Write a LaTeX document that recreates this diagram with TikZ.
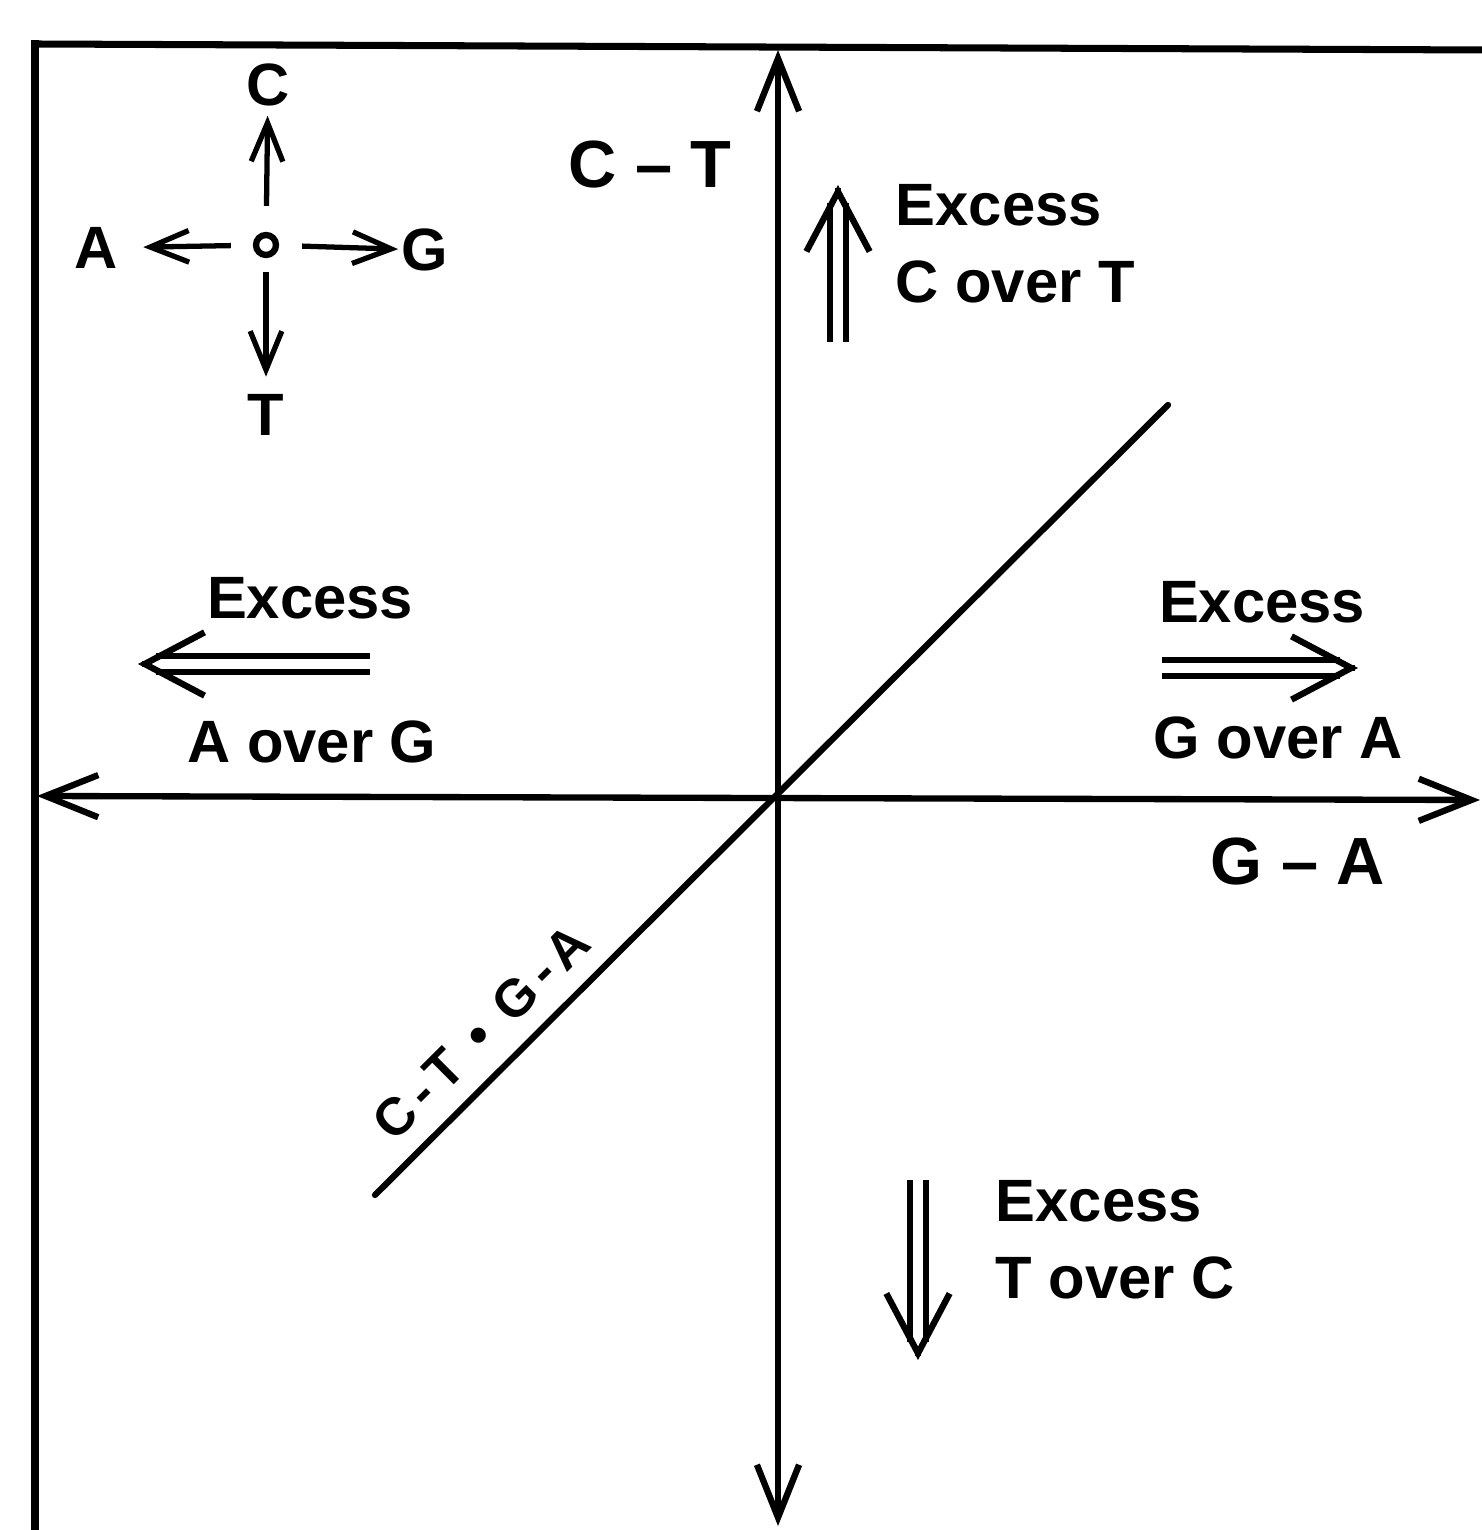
\documentclass[tikz,border=0pt]{standalone}
\usepackage{fontspec}
\setmainfont{Liberation Sans}
\usetikzlibrary{arrows.meta,positioning,calc}

\tikzset{
  lab/.style={font=\bfseries\fontsize{17}{22}\selectfont, inner sep=0pt},
  biglab/.style={font=\bfseries\fontsize{19}{23}\selectfont, inner sep=0pt},
  frame/.style={line width=2pt},
  axis/.style={line width=1.8pt, {Straight Barb[length=15pt,width=12pt]}-{Straight Barb[length=15pt,width=12pt]}},
  tiny/.style={line width=1.5pt, -{Straight Barb[length=11pt,width=9pt]}},
  excess/.style={double, double distance=2.8pt, line width=1.7pt, shorten >=5pt},
  head/.style={line width=1.8pt, -{Straight Barb[length=17pt,width=18pt]}},
}

\begin{document}
\begin{tikzpicture}
  \useasboundingbox (0,0) rectangle (14.82,15.30);
  % frame
  \draw[frame] (0.35,0) -- (0.35,14.90);
  \draw[frame] (0.33,14.86) -- (14.82,14.80);
  % axes
  \coordinate (O) at (7.78,7.33);
  \coordinate (top) at (7.78,14.80);
  \coordinate (bot) at (7.78,0.04);
  \coordinate (lft) at (0.37,7.34);
  \coordinate (rgt) at (14.80,7.30);
  \draw[axis] (bot) -- (top);
  \draw[axis] (lft) -- (rgt);
  \node[biglab] (CT) at (6.50,13.65) {C -- T};
  \node[biglab] (GA) at (12.98,6.68) {G -- A};
  % diagonal
  \coordinate (d1) at (3.75,3.35);
  \coordinate (d2) at (11.68,11.25);
  \draw[line width=1.8pt, line cap=round] (d1) -- (d2)
    node[pos=0.17, sloped, above=2pt, font=\bfseries\fontsize{15}{18}\selectfont\addfontfeatures{LetterSpace=15}] (eq) {C-T \textbullet\ G-A};
  % compass
  \node[draw, circle, line width=1.8pt, minimum size=0.2cm, inner sep=0pt] (cen) at (2.66,12.85) {};
  \node[lab] (nC) at (2.68,14.45) {C};
  \node[lab] (nA) at (0.96,12.82) {A};
  \node[lab] (nG) at (4.25,12.80) {G};
  \node[lab] (nT) at (2.66,11.15) {T};
  \foreach \n/\s/\e in {nC/0.26cm/0.09cm, nA/0.22cm/0.25cm, nG/0.23cm/0.03cm, nT/0.14cm/0.17cm}
    \draw[tiny, shorten <=\s, shorten >=\e] (cen) -- (\n);
  % excess labels
  \node[lab, align=left, anchor=west] (exCT) at (8.95,12.86) {Excess\\C over T};
  \node[lab] (exAG) at (3.10,9.32) {Excess};
  \node[lab] (AG) at (3.12,7.88) {A over G};
  \node[lab] (exGA) at (12.62,9.28) {Excess};
  \node[lab] (GoA) at (12.78,7.92) {G over A};
  \node[lab, align=left, anchor=west] (exTC) at (9.95,2.90) {Excess\\T over C};
  % double arrows
  \coordinate (up1) at (8.38,11.88);
  \coordinate (up2) at (8.38,13.45);
  \coordinate (lf1) at (3.70,8.66);
  \coordinate (lf2) at (1.38,8.66);
  \coordinate (rt1) at (11.62,8.62);
  \coordinate (rt2) at (13.58,8.62);
  \coordinate (dn1) at (9.18,3.50);
  \coordinate (dn2) at (9.18,1.70);
  \foreach \a/\b in {up1/up2, lf1/lf2, rt1/rt2, dn1/dn2} {
    \draw[excess] (\a) -- (\b);
    \draw[head] ($(\b)!1pt!(\a)$) -- (\b);
  }
\end{tikzpicture}
\end{document}
